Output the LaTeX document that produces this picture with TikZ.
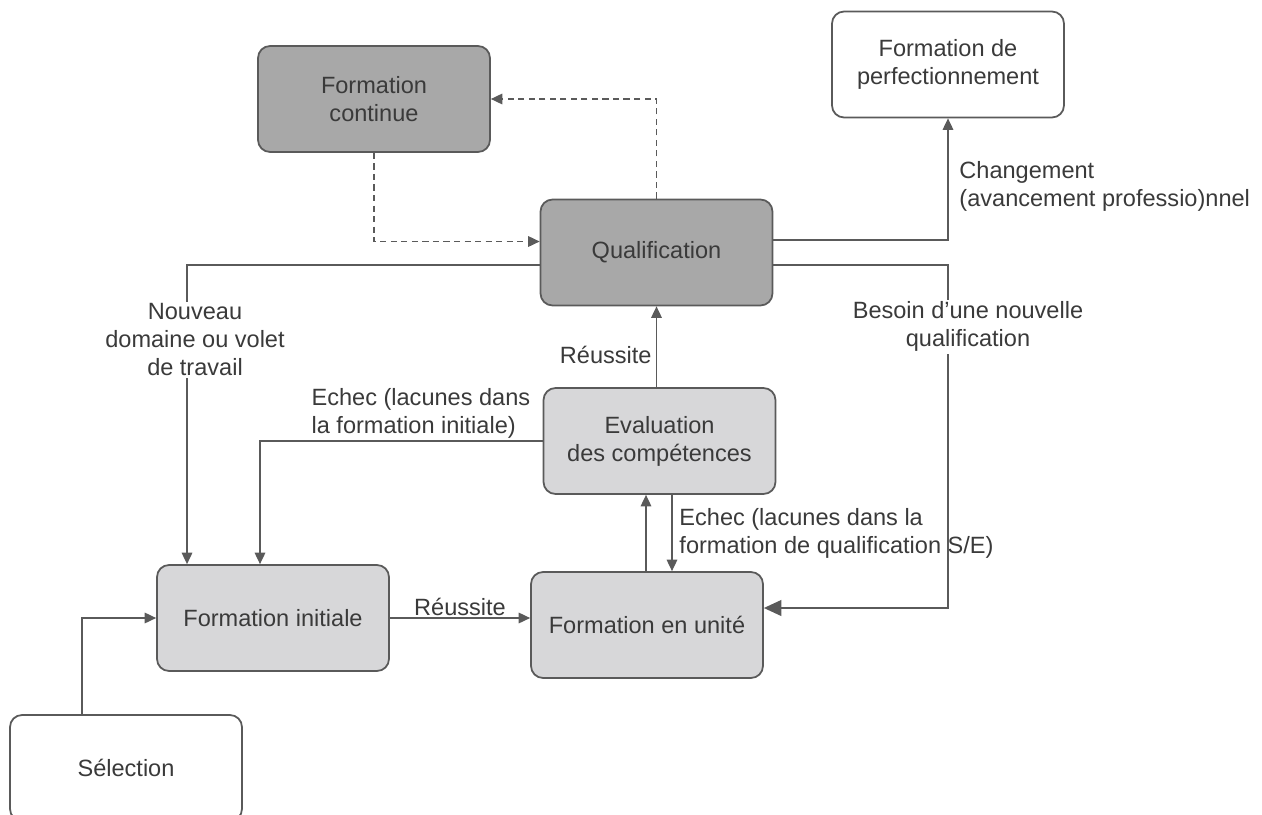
\documentclass[tikz,border=0pt]{standalone}
\usepackage{fontspec}
\setmainfont{Liberation Sans}
\usetikzlibrary{arrows.meta}
\definecolor{boxline}{HTML}{5A5A5A}
\definecolor{darkfill}{HTML}{A8A8A8}
\definecolor{lightfill}{HTML}{D7D7D9}
\definecolor{textgray}{HTML}{3A3A3A}
\tikzset{
  stage/.style={draw=boxline, line width=1pt, rounded corners=0.24cm,
    minimum width=4.64cm, minimum height=2.12cm, align=center,
    text=textgray, font=\fontsize{13.4}{16}\selectfont},
  darkstage/.style={stage, fill=darkfill},
  lightstage/.style={stage, fill=lightfill},
  openstage/.style={stage, fill=white},
  link/.style={draw=boxline, line width=0.8pt, -{Triangle[length=6.5pt,width=6pt]}},
  dashlink/.style={link, dash pattern=on 3.5pt off 2.5pt},
  biglink/.style={draw=boxline, line width=1pt, -{Triangle[length=10pt,width=9pt]}},
  note/.style={text=textgray, font=\fontsize{13.4}{16}\selectfont, inner sep=1pt}
}
\begin{document}
\begin{tikzpicture}[x=0.02cm,y=-0.02cm]
      \useasboundingbox (0,0) rectangle (1262,815);
      \draw
        (374,99) node[darkstage] (fc) {Formation\\continue}
        (948,64.5) node[openstage] (fp) {Formation de\\perfectionnement}
        (656.5,252.5) node[darkstage] (qual) {Qualification}
        (659.5,441) node[lightstage] (eval) {Evaluation\\des compétences}
        (273,618) node[lightstage] (fi) {Formation initiale}
        (647,625) node[lightstage] (fu) {Formation en unité}
        (126,768) node[openstage] (sel) {Sélection};
      \coordinate (nq) at (948,608);
      \coordinate (up) at ([xshift=-0.27cm]eval.south);
      \coordinate (dn) at ([xshift=0.25cm]eval.south);
      \begin{scope}[dashlink]
        \draw (qual.north) |- (fc.east);
        \draw (fc.south) |- ([yshift=0.22cm]qual.west);
      \end{scope}
      \begin{scope}[link]
        \draw ([yshift=0.25cm]qual.east) -| node[pos=0.72, note, anchor=west, xshift=0.18cm, align=left]
          {Changement\\(avancement professio)nnel} (fp.south);
        \draw ([yshift=-0.25cm]qual.west) -| node[pos=0.625, note, fill=white, xshift=0.16cm, align=center]
          {Nouveau\\domaine ou volet\\de travail} ([xshift=-1.72cm]fi.north);
        \draw (qual.south |- eval.north) -- node[pos=0.4, note, anchor=east, xshift=-0.05cm] {Réussite} (qual.south);
        \draw (eval.west) -| node[pos=0, note, anchor=south east, xshift=-0.2cm, align=left]
          {Echec (lacunes dans\\la formation initiale)} ([xshift=-0.26cm]fi.north);
        \draw (up |- fu.north) -- (up);
        \draw (dn) -- node[midway, note, anchor=west, xshift=0.1cm, align=left]
          {Echec (lacunes dans la\\formation de qualification S/E)} (dn |- fu.north);
        \draw (fi.east) -- node[midway, note, anchor=south] {Réussite} (fi.east -| fu.west);
        \draw ([xshift=-0.88cm]sel.north) |- (fi.west);
      \end{scope}
      \draw[biglink] ([yshift=-0.25cm]qual.east) -| node[pos=0.59, note, fill=white, xshift=0.4cm, align=center]
        {Besoin d’une nouvelle\\qualification} (nq) -- (nq -| fu.east);
    \end{tikzpicture}
\end{document}
